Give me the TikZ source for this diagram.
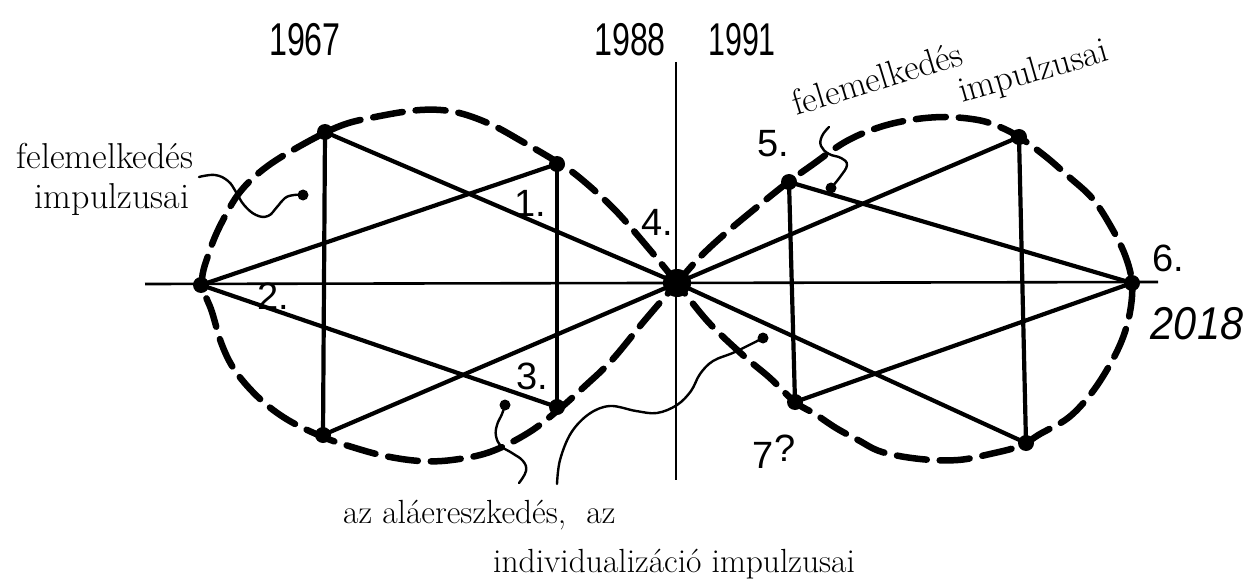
\documentclass[tikz,border=0pt]{standalone}
\usepackage{fontspec}
\newfontfamily\hand{Liberation Sans}
\begin{document}
\begin{tikzpicture}[x=1pt,y=-1pt,
  tri/.style={line width=4.2pt, line cap=round},
  axisline/.style={line width=2.6pt},
  lobe/.style={line width=6.5pt, dash pattern=on 30pt off 13pt, line cap=round},
  squig/.style={line width=2.4pt, line cap=round},
  vtx/.style={circle, fill, inner sep=0pt, minimum size=16pt},
  hub/.style={circle, fill, inner sep=0pt, minimum size=28pt},
  blob/.style={circle, fill, inner sep=0pt, minimum size=11pt},
  scriptl/.style={font=\fontsize{36}{42}\selectfont, inner sep=0pt},
  scriptb/.style={font=\fontsize{33.5}{38}\selectfont, inner sep=0pt},
  year/.style={font=\hand\fontsize{46}{50}\selectfont, inner sep=0pt},
  num/.style={font=\hand\fontsize{38}{40}\selectfont, inner sep=0pt}]
\useasboundingbox (0,0) rectangle (1249,580);

% axes
\coordinate (axL) at (145,284);
\coordinate (axR) at (1158,282);
\coordinate (axT) at (676,62);
\coordinate (axB) at (676,480);
\draw[axisline] (axL) -- (axR);
\draw[axisline] (axT) -- (axB);

% points
\node[hub] (O) at (677,283) {};
\node[vtx] (A) at (201,285) {};
\node[vtx] (B) at (325,132) {};
\node[vtx] (C) at (323,435) {};
\node[vtx] (D) at (557,164) {};
\node[vtx] (E) at (557,407) {};
\node[vtx] (F) at (789,182) {};
\node[vtx] (G) at (795,402) {};
\node[vtx] (H) at (1019,137) {};
\node[vtx] (I) at (1026,443) {};
\node[vtx] (J) at (1132,283) {};

% triangles
\draw[tri] (B.center) -- (O.center);
\draw[tri] (C.center) -- (O.center);
\draw[tri] (B.center) -- (C.center);
\draw[tri] (A.center) -- (D.center);
\draw[tri] (A.center) -- (E.center);
\draw[tri] (D.center) -- (E.center);
\draw[tri] (O.center) -- (H.center);
\draw[tri] (O.center) -- (I.center);
\draw[tri] (H.center) -- (I.center);
\draw[tri] (F.center) -- (J.center);
\draw[tri] (G.center) -- (J.center);
\draw[tri] (F.center) -- (G.center);

% dashed lobes
\draw[lobe, dash phase=6pt] plot[smooth, tension=0.6] coordinates {
  (O.center) (650,250) (615,210) (580,178) (557,162) (523,142) (490,124)
  (455,112) (420,110) (375,117) (340,126) (300,146) (265,168) (240,192)
  (222,222) (210,250) (202,282) (212,312) (222,345) (236,372) (260,399)
  (288,420) (323,437) (352,447) (385,456) (420,461) (452,460) (490,452)
  (528,433) (557,411) (585,386) (612,360) (645,320) (O.center)};
\draw[lobe, dash phase=6pt] plot[smooth, tension=0.6] coordinates {
  (O.center) (700,257) (727,232) (757,207) (787,183) (812,165) (845,142)
  (877,128) (910,120) (945,117) (978,120) (1000,127) (1019,137) (1045,156)
  (1068,176) (1092,198) (1110,225) (1125,255) (1132,283) (1130,312)
  (1122,340) (1108,368) (1090,395) (1068,418) (1040,434) (1020,446)
  (990,454) (958,460) (920,459) (882,452) (858,440) (836,428) (815,414)
  (795,402) (770,378) (745,357) (712,326) (690,300) (O.center)};

% squiggly pointers
\coordinate (s1a) at (199,177);
\node[blob] (s1d) at (303,195) {};
\draw[squig] plot[smooth, tension=0.7] coordinates {
  (s1a) (215,175) (228,181) (236,192) (244,205) (256,215) (268,216)
  (277,207) (285,198) (294,195) (s1d.center)};

\node[blob] (s2d) at (505,405) {};
\coordinate (s2a) at (519,483);
\draw[squig] plot[smooth, tension=0.7] coordinates {
  (s2d.center) (502,414) (497,425) (496,436) (501,446) (512,453)
  (523,461) (526,471) (s2a)};

\coordinate (s3a) at (557,484);
\node[blob] (s3d) at (763,338) {};
\draw[squig] plot[smooth, tension=0.6] coordinates {
  (s3a) (560,460) (571,433) (589,414) (610,406) (636,411) (657,413)
  (677,405) (691,391) (700,374) (713,361) (735,352) (s3d.center)};

\node[blob] (s4d) at (831,188) {};
\coordinate (s4a) at (829,127);
\draw[squig] plot[smooth, tension=0.7] coordinates {
  (s4d.center) (840,177) (847,165) (841,158) (829,154) (821,146)
  (822,136) (s4a)};

% years
\node[year] (y1967) at (305,40) {\scalebox{0.7}[1]{1967}};
\node[year] (y1988) at (630,40) {\scalebox{0.7}[1]{1988}};
\node[year] (y1991) at (742,40) {\scalebox{0.66}[1]{1991}};
\node[year, anchor=center] (y2018) at (1197,324) {\scalebox{0.9}[1]{\itshape 2018}};

% numbers
\node[num] (n1) at (530,203) {1.};
\node[num] (n2) at (273,296) {2.};
\node[num] (n3) at (532,376) {3.};
\node[num] (n4) at (657,222) {4.};
\node[num] (n5) at (773,144) {5.};
\node[num] (n6) at (1168,258) {6.};
\node[num] (n7) at (774,452) {7\raisebox{7pt}{?}};

% texts
\node[scriptl, anchor=base] (t1) at (105,168) {felemelkedés};
\node[scriptl, anchor=base] (t2) at (112,208) {impulzusai};
\node[scriptl, anchor=base west, rotate=17] (t3) at (796,116) {felemelkedés};
\node[scriptl, anchor=base west, rotate=16] (t4) at (962,103) {impulzusai};
\node[scriptb, anchor=base west] (t5) at (343,523) {az aláereszkedés,\ \ az};
\node[scriptb, anchor=base west] (t6) at (493,572) {individualizáció impulzusai};
\end{tikzpicture}
\end{document}
